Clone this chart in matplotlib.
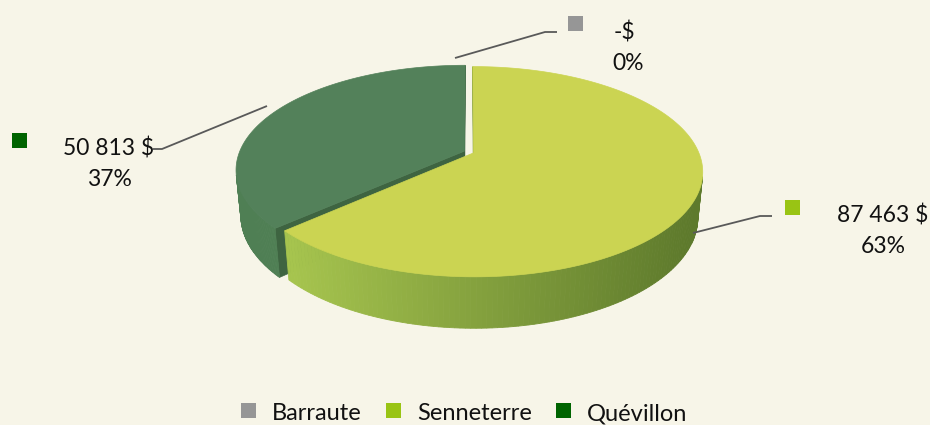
import numpy as np
import matplotlib
matplotlib.use("Agg")
import matplotlib.pyplot as plt
from matplotlib.patches import Polygon

# data
labels = ["Barraute", "Senneterre", "Quévillon"]
values = [0, 87463, 50813]
top_colors = ["#a5a5a5", "#cbd452", "#53815a"]
side_light = ["#a0a0a0", "#a6c44e", "#4f7f54"]
side_dark = ["#8a8a8a", "#5e7a2c", "#456f49"]
cut_colors = ["#7a7a7a", "#7d9a34", "#3e6441"]
key_colors = ["#969696", "#99c414", "#006400"]

bg = "#f7f5e8"
plt.rcParams["font.family"] = ["Lato", "DejaVu Sans"]

# fake 3d camera
phi = np.radians(26.8)
dist = 5.0
focal = 1125
cx, cy = 469, 152
depth = 0.228
explode = 0.022
cam = np.array([0.0, dist * np.sin(phi), -dist * np.cos(phi)])


def proj(x, y, z):
    up = y * np.cos(phi) + z * np.sin(phi)
    dep = z * np.cos(phi) - y * np.sin(phi) + dist
    return cx + focal * x / dep, cy - focal * up / dep


def mix(c1, c2, s):
    a = np.array(matplotlib.colors.to_rgb(c1))
    b = np.array(matplotlib.colors.to_rgb(c2))
    return tuple(a + (b - a) * np.clip(s, 0, 1))


fig = plt.figure(figsize=(9.3, 4.25), dpi=100)
fig.patch.set_facecolor(bg)
ax = fig.add_axes([0, 0, 1, 1])
ax.set_xlim(0, 930)
ax.set_ylim(425, 0)
ax.axis("off")

total = sum(values)
ends = np.cumsum(values) / total * 2 * np.pi
starts = ends - np.array(values) / total * 2 * np.pi

# back slices first
order = sorted(range(len(values)), key=lambda i: -np.cos((starts[i] + ends[i]) / 2))
for i in order:
    if values[i] == 0:
        continue
    t0, t1 = starts[i], ends[i]
    mid = (t0 + t1) / 2
    ex, ez = explode * np.sin(mid), explode * np.cos(mid)
    t = np.linspace(t0, t1, 200)

    # cut faces
    for ta, nrm in [(t0, (-np.cos(t0), np.sin(t0))), (t1, (np.cos(t1), -np.sin(t1)))]:
        if nrm[0] * (cam[0] - ex) + nrm[1] * (cam[2] - ez) > 0:
            pts = [proj(ex, 0, ez), proj(ex + np.sin(ta), 0, ez + np.cos(ta)),
                   proj(ex + np.sin(ta), -depth, ez + np.cos(ta)), proj(ex, -depth, ez)]
            ax.add_patch(Polygon(pts, closed=True, fc=cut_colors[i], ec=cut_colors[i], lw=0.5))

    # outer wall
    for a, b in zip(t[:-1], t[1:]):
        m = (a + b) / 2
        px, pz = ex + np.sin(m), ez + np.cos(m)
        if np.sin(m) * (cam[0] - px) + np.cos(m) * (cam[2] - pz) <= 0:
            continue
        pts = [proj(ex + np.sin(a), 0, ez + np.cos(a)), proj(ex + np.sin(b), 0, ez + np.cos(b)),
               proj(ex + np.sin(b), -depth, ez + np.cos(b)), proj(ex + np.sin(a), -depth, ez + np.cos(a))]
        sx = proj(px, 0, pz)[0]
        col = mix(side_light[i], side_dark[i], (sx - 290) / 400)
        ax.add_patch(Polygon(pts, closed=True, fc=col, ec=col, lw=0.6))

    # top
    xs, ys = proj(ex + np.sin(t), 0 * t, ez + np.cos(t))
    apx, apy = proj(ex, 0, ez)
    top = np.column_stack([np.r_[apx, xs], np.r_[apy, ys]])
    ax.add_patch(Polygon(top, closed=True, fc=top_colors[i], ec=top_colors[i], lw=0.5))

# data labels
leaders = [[(455, 58), (545, 32), (557, 32)],
           [(693, 233), (760, 216), (772, 216)],
           [(267, 106), (162, 149), (153, 149)]]
key_pos = [(575, 23), (792, 207), (19, 140)]
text_pos = [(624, 32), (883, 215), (109, 148)]
for i in range(len(values)):
    lx, ly = zip(*leaders[i])
    ax.plot(lx, ly, color="#595959", lw=1.3, solid_capstyle="butt")
    ax.scatter(*key_pos[i], marker="s", s=(15 * 0.72) ** 2, color=key_colors[i], linewidths=0)
    amount = "-$" if values[i] == 0 else f"{values[i]:,}".replace(",", " ") + " $"
    pct = f"{round(values[i] / total * 100)}%"
    tx, ty = text_pos[i]
    ax.text(tx, ty, amount, ha="center", va="center", fontsize=16.5, color="#111111")
    ax.text(tx + (4 if values[i] == 0 else 0), ty + 31, pct, ha="center", va="center",
            fontsize=16.5, color="#111111")

# legend
leg_x = [248, 393, 563]
for i, name in enumerate(labels):
    ax.scatter(leg_x[i], 410, marker="s", s=(15 * 0.72) ** 2, color=key_colors[i], linewidths=0)
    ax.text(leg_x[i] + 24, 414, name, ha="left", va="center", fontsize=17, color="#111111")

fig.savefig("out.png", dpi=100, facecolor=bg)
